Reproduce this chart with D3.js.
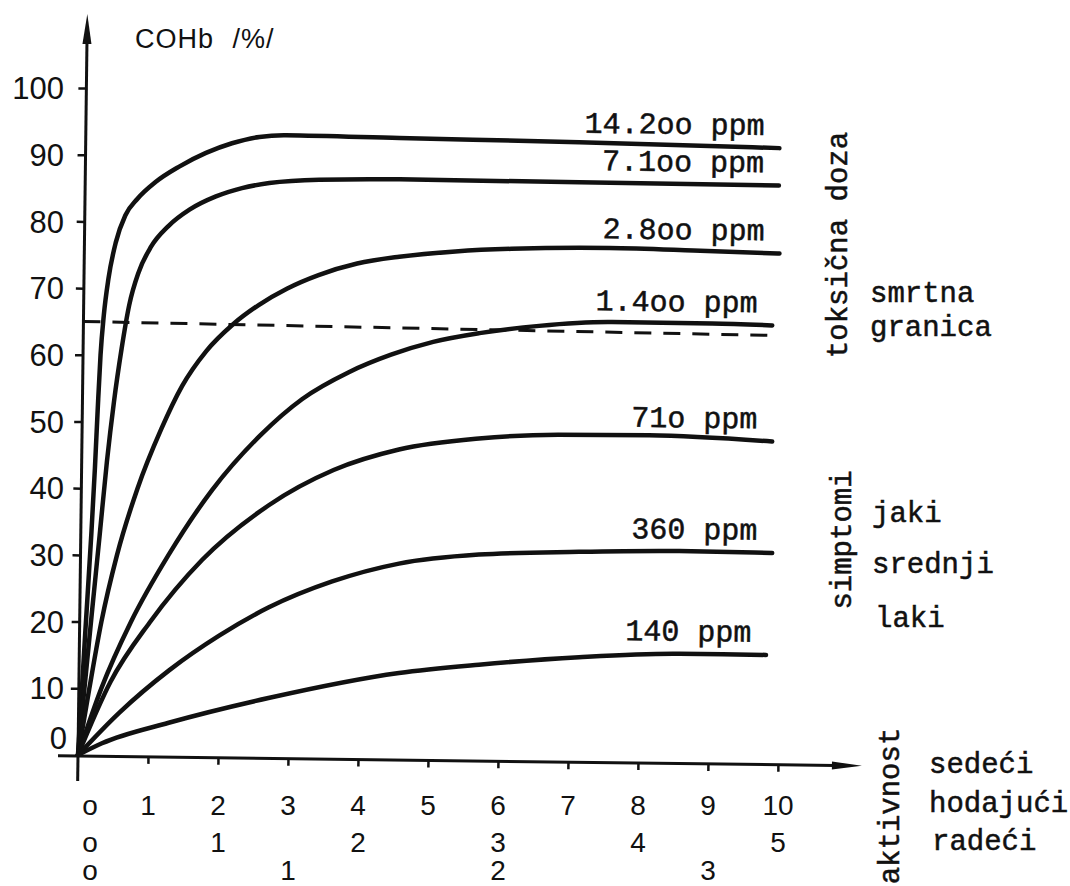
<!DOCTYPE html>
<html>
<head>
<meta charset="utf-8">
<script src="https://cdn.jsdelivr.net/npm/d3@7"></script>
<style>
  body { margin: 0; background: #fff; }
</style>
</head>
<body>
<div id="chart"></div>
<script>
// --- data (time units, COHb %) ---
const yTicks = [0, 10, 20, 30, 40, 50, 60, 70, 80, 90, 100];
const xTicks = [0, 1, 2, 3, 4, 5, 6, 7, 8, 9, 10];

// activity rows under the x axis: sitting / walking / working
const rowSedeciPos = [0, 1, 2, 3, 4, 5, 6, 7, 8, 9, 10];
const rowSedeciTxt = ["o", "1", "2", "3", "4", "5", "6", "7", "8", "9", "10"];
const rowHodajuciPos = [0, 2, 4, 6, 8, 10];
const rowHodajuciTxt = ["o", "1", "2", "3", "4", "5"];
const rowRadeciPos = [0, 3, 6, 9];
const rowRadeciTxt = ["o", "1", "2", "3"];

const curveLabels = ["14.2oo ppm", "7.1oo ppm", "2.8oo ppm", "1.4oo ppm", "71o ppm", "360 ppm", "140 ppm"];

const c14200 = [[0,0],[0.08,18],[0.15,33],[0.19,43],[0.22,52],[0.25,60],[0.29,66],[0.35,71.5],[0.45,77],[0.58,81],[0.75,83.5],[1.0,86],[1.34,88.4],[1.72,90.5],[2.09,92],[2.48,93],[2.86,93.3],[4.48,93.1],[7.05,92.8],[9.91,92.3]];
const c7100 = [[0,0],[0.08,10],[0.17,21],[0.27,33],[0.36,44],[0.45,53],[0.55,61],[0.65,67.5],[0.78,72.5],[0.95,76.3],[1.2,79.5],[1.5,82],[1.87,84],[2.24,85.3],[2.63,86.1],[3.34,86.7],[4.49,86.9],[7.06,86.8],[9.91,86.7]];
const c2800 = [[0,0],[0.15,10],[0.31,20],[0.52,30],[0.8,40],[1.13,49],[1.42,55.5],[1.76,60.8],[2.13,64.8],[2.5,67.8],[2.9,70.3],[3.35,72.4],[3.9,74.2],[4.5,75.3],[5.3,76.2],[6.1,76.7],[7.5,77],[8.7,76.8],[9.93,76.5]];
const c1400 = [[0,0],[0.32,10],[0.73,20],[1.26,30.2],[1.87,40],[2.55,48.3],[3.14,53.8],[3.8,57.9],[4.4,60.6],[5.0,62.6],[5.66,64.0],[6.51,65.2],[7.55,65.9],[8.98,65.9],[9.84,65.7]];
const c710 = [[0,0],[0.45,11],[1.0,20],[1.74,29.5],[2.68,37.8],[3.6,43.2],[4.53,46.4],[5.67,48.2],[6.8,48.9],[8.1,49],[9.86,48.3]];
const c360 = [[0,0],[0.58,6.4],[1.29,12.9],[2.0,18.2],[2.7,22.5],[3.6,26.5],[4.55,29.3],[5.69,30.8],[7.12,31.4],[8.55,31.7],[9.88,31.6]];
const c140 = [[0,0],[0.34,1.8],[1.29,5.0],[2.71,8.9],[4.57,12.9],[5.71,14.3],[7.14,15.6],[8.57,16.3],[9.81,16.3]];

// lethal limit (dashed)
const smrtnaGranica = [[0, 65], [9.85, 64.2]];

const curves = [c14200, c7100, c2800, c1400, c710, c360, c140];

// --- layout ---
const width = 1070, height = 886;
const ink = "#111";
const mono = "'Liberation Mono', 'DejaVu Sans Mono', monospace";
const sans = "'Liberation Sans', Arial, sans-serif";

const x = d3.scaleLinear().domain([0, 10]).range([78, 778]);
const y = d3.scaleLinear().domain([0, 100]).range([755, 88]);

const svg = d3.select("#chart").append("svg")
  .attr("width", width)
  .attr("height", height)
  .style("background", "#fff");

// the scan is turned a little clockwise, so the plot sits in a rotated group
const plot = svg.append("g")
  .attr("transform", `rotate(0.72, ${x(0)}, ${y(0)})`);

// axes lines with arrows
plot.append("line")
  .attr("x1", x(0)).attr("x2", x(0))
  .attr("y1", y(0) + 26).attr("y2", 40)
  .attr("stroke", ink).attr("stroke-width", 3);
plot.append("path")
  .attr("d", `M${x(0)},14 L${x(0) - 4.5},44 L${x(0) + 4.5},44 Z`)
  .attr("fill", ink);

plot.append("line")
  .attr("x1", x(0) - 20).attr("x2", 835)
  .attr("y1", y(0) + 1).attr("y2", y(0) + 1)
  .attr("stroke", ink).attr("stroke-width", 3);
plot.append("path")
  .attr("d", `M862,${y(0) + 1} L832,${y(0) - 3} L832,${y(0) + 5} Z`)
  .attr("fill", ink);

// tick marks from d3 axes
const yAxis = plot.append("g")
  .attr("transform", `translate(${x(0)},0)`)
  .call(d3.axisLeft(y).tickValues(yTicks.slice(1)).tickSize(8).tickFormat(""));
const xAxis = plot.append("g")
  .attr("transform", `translate(0,${y(0) + 1})`)
  .call(d3.axisBottom(x).tickValues(xTicks.slice(1)).tickSize(7).tickFormat(""));
[yAxis, xAxis].forEach(function (a) {
  a.select(".domain").remove();
  a.selectAll("line").attr("stroke", ink).attr("stroke-width", 2.5);
});

// dashed lethal limit
const line = d3.line()
  .x(function (d) { return x(d[0]); })
  .y(function (d) { return y(d[1]); });

plot.append("path")
  .datum(smrtnaGranica)
  .attr("d", line)
  .attr("fill", "none")
  .attr("stroke", ink)
  .attr("stroke-width", 3)
  .attr("stroke-dasharray", "17,12");

// uptake curves
const curveLine = d3.line()
  .x(function (d) { return x(d[0]); })
  .y(function (d) { return y(d[1]); })
  .curve(d3.curveMonotoneX);

plot.selectAll(".curve")
  .data(curves)
  .enter()
  .append("path")
  .attr("class", "curve")
  .attr("d", curveLine)
  .attr("fill", "none")
  .attr("stroke", ink)
  .attr("stroke-width", 4.5)
  .attr("stroke-linecap", "round")
  .attr("stroke-linejoin", "round");

plot.selectAll(".clabel")
  .data(curves)
  .enter()
  .append("text")
  .attr("class", "clabel")
  .attr("x", function (d) { return x(d[d.length - 1][0]) - 15; })
  .attr("y", function (d) { return y(d[d.length - 1][1]) - 13; })
  .attr("text-anchor", "end")
  .attr("font-family", mono)
  .attr("font-size", 30)
  .attr("fill", ink)
  .attr("stroke", ink)
  .attr("stroke-width", 0.5)
  .text(function (d, i) { return curveLabels[i]; });

// y tick labels (not rotated)
svg.selectAll(".ylab")
  .data(yTicks)
  .enter()
  .append("text")
  .attr("class", "ylab")
  .attr("x", function (d) { return d === 0 ? 67 : 64; })
  .attr("y", function (d) { return d === 0 ? y(d) - 17 : y(d); })
  .attr("dy", "0.36em")
  .attr("text-anchor", "end")
  .attr("font-family", sans)
  .attr("font-size", 31)
  .attr("fill", ink)
  .text(function (d) { return d; });

svg.append("text")
  .attr("x", 135).attr("y", 48)
  .attr("font-family", sans)
  .attr("font-size", 27)
  .attr("letter-spacing", 1)
  .attr("word-spacing", 10)
  .attr("fill", ink)
  .text("COHb /%/");

// x tick label rows
const rows = [
  { pos: rowSedeciPos, txt: rowSedeciTxt, base: 815 },
  { pos: rowHodajuciPos, txt: rowHodajuciTxt, base: 852 },
  { pos: rowRadeciPos, txt: rowRadeciTxt, base: 880 }
];
rows.forEach(function (r) {
  svg.append("g").selectAll("text")
    .data(r.pos)
    .enter()
    .append("text")
    .attr("x", function (d) { return d === 0 ? x(d) + 12 : x(d); })
    .attr("y", r.base)
    .attr("text-anchor", "middle")
    .attr("font-family", sans)
    .attr("font-size", 28)
    .attr("fill", ink)
    .text(function (d, i) { return r.txt[i]; });
});

// side notes
function vText(txt, cx, cy) {
  svg.append("text")
    .attr("transform", `translate(${cx},${cy}) rotate(-90)`)
    .attr("text-anchor", "middle")
    .attr("font-family", mono)
    .attr("font-size", 29)
    .attr("fill", ink)
    .attr("stroke", ink)
    .attr("stroke-width", 0.5)
    .text(txt);
}
vText("toksična doza", 847, 245);
vText("simptomi", 851, 540);
vText("aktivnost", 899, 806);

const notes = [
  ["smrtna", 870, 302], ["granica", 870, 336],
  ["jaki", 872, 522], ["srednji", 872, 573], ["laki", 875, 627],
  ["sedeći", 929, 773], ["hodajući", 929, 812], ["radeći", 932, 850]
];
svg.selectAll(".note")
  .data(notes)
  .enter()
  .append("text")
  .attr("class", "note")
  .attr("x", function (d) { return d[1]; })
  .attr("y", function (d) { return d[2]; })
  .attr("font-family", mono)
  .attr("font-size", 29)
  .attr("fill", ink)
  .attr("stroke", ink)
  .attr("stroke-width", 0.5)
  .text(function (d) { return d[0]; });
</script>
</body>
</html>
